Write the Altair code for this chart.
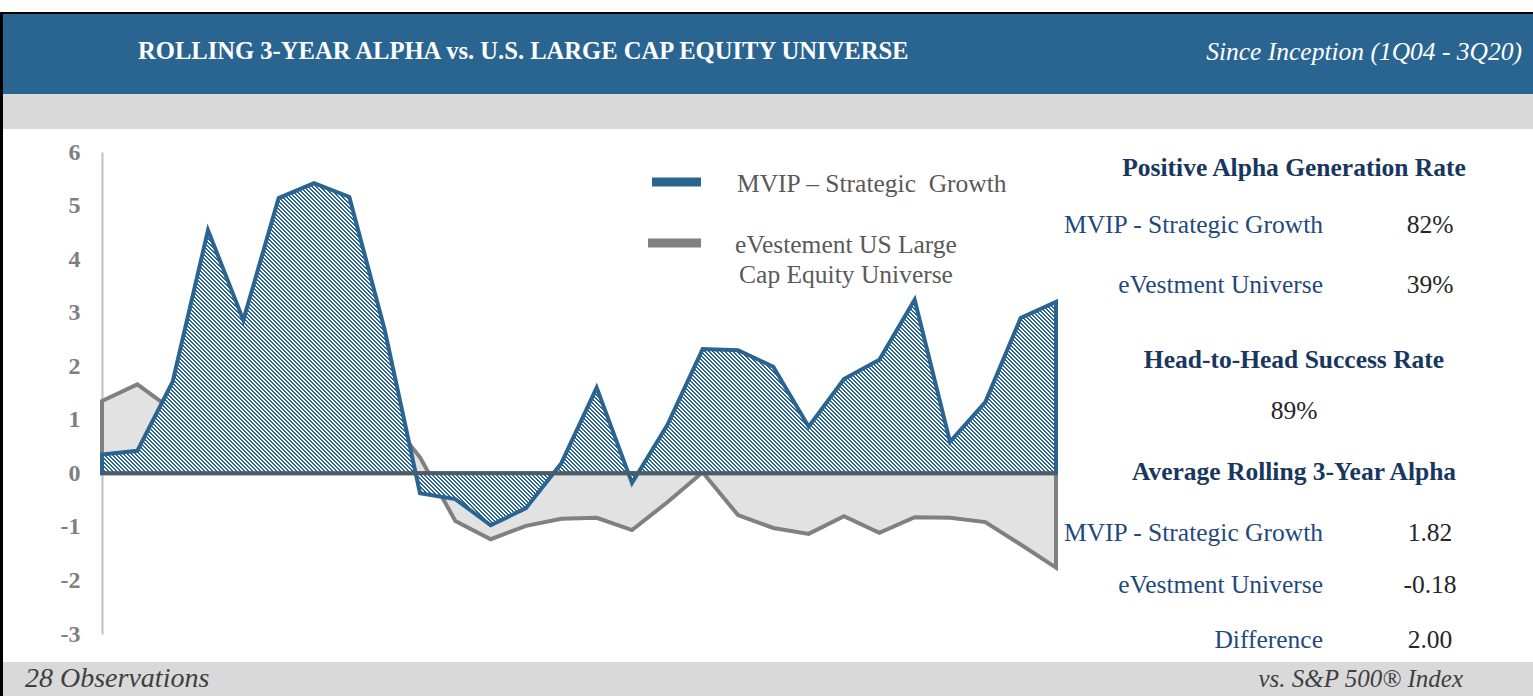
import altair as alt
import pandas as pd

# ---------------- data ----------------
obs = list(range(28))
mvip = [0.35, 0.42, 1.71, 4.54, 2.86, 5.14, 5.42, 5.16, 2.68, -0.37,
        -0.48, -0.97, -0.65, 0.19, 1.60, -0.18, 0.90, 2.32, 2.30, 1.99,
        0.87, 1.76, 2.12, 3.24, 0.59, 1.33, 2.90, 3.20]
evest = [1.35, 1.66, 1.18, 1.05, 1.15, 1.35, 1.40, 1.25, 1.12, 0.30,
         -0.89, -1.23, -0.98, -0.85, -0.83, -1.06, -0.54, 0.02, -0.78, -1.02,
         -1.13, -0.80, -1.11, -0.82, -0.83, -0.91, -1.33, -1.76]
y_ticks = [-3, -2, -1, 0, 1, 2, 3, 4, 5, 6]

title_text = "ROLLING 3-YEAR ALPHA vs. U.S. LARGE CAP EQUITY UNIVERSE"
subtitle_text = "Since Inception (1Q04 - 3Q20)"
footer_left = "28 Observations"
footer_right = "vs. S&P 500\u00ae Index"
legend_1 = "MVIP \u2013 Strategic \u00a0Growth"
legend_2 = ["eVestement US Large", "Cap Equity Universe"]

panel_head = ["Positive Alpha Generation Rate", "Head-to-Head Success Rate",
              "Average Rolling 3-Year Alpha"]
pos_labels = ["MVIP - Strategic Growth", "eVestment Universe"]
pos_values = ["82%", "39%"]
h2h_value = "89%"
avg_labels = ["MVIP - Strategic Growth", "eVestment Universe", "Difference"]
avg_values = ["1.82", "-0.18", "2.00"]

df = pd.DataFrame({"obs": obs, "mvip": mvip, "evest": evest})

# ---------------- style ----------------
FONT = "Liberation Serif"
BLUE = "#2a6592"
GREY_LINE = "#808080"
GREY_FILL = "#e2e2e2"
NAVY_H = "#17375e"
NAVY = "#1f497d"
VAL = "#262626"

W, H = 954, 482
Y0, Y1 = -3, 6

xs = alt.Scale(domain=[0, 27], nice=False, zero=False)
ys = alt.Scale(domain=[Y0, Y1], nice=False, zero=False)

yaxis = alt.Axis(values=y_ticks, labelExpr="'' + datum.value", labelFont=FONT,
                 labelFontSize=24, labelFontWeight="bold", labelColor="#7f7f7f",
                 labelPadding=22, ticks=False, grid=False, domainColor="#bfbfbf",
                 domainWidth=2, title=None)

# stripe gradient for blue area ("\" diagonal stripes)
k = H / (Y1 - Y0)
bw = W
bh = (max(max(mvip), 0) - min(min(mvip), 0)) * k
den = bw ** 2 + bh ** 2
gx2 = bw * (bw + bh) / den
gy2 = 1 - bh * (bw + bh) / den
N = int(round((bw + bh) / 4.0))
stops = []
for j in range(N):
    a = j / N
    b = (j + 0.47) / N
    c = (j + 1) / N
    stops += [alt.GradientStop(offset=round(a, 6), color=BLUE),
              alt.GradientStop(offset=round(b, 6), color=BLUE),
              alt.GradientStop(offset=round(b, 6), color="#ffffff"),
              alt.GradientStop(offset=round(c, 6), color="#ffffff")]
stripes = alt.LinearGradient(gradient="linear", stops=stops, x1=0, y1=1,
                             x2=gx2, y2=gy2)

base = alt.Chart(df)
grey_area = base.mark_area(fill=GREY_FILL, stroke=GREY_LINE, strokeWidth=4).encode(
    x=alt.X("obs:Q", scale=xs, axis=None),
    y=alt.Y("evest:Q", scale=ys, axis=yaxis))
blue_area = base.mark_area(fill=stripes, stroke=BLUE, strokeWidth=4).encode(
    x=alt.X("obs:Q", scale=xs, axis=None),
    y=alt.Y("mvip:Q", scale=ys, axis=yaxis))
zero_rule = alt.Chart(alt.Data(values=[{"v": 0}])).mark_rule(
    color="#595959", strokeWidth=3).encode(
    y=alt.Y("v:Q", scale=ys, axis=yaxis), x=alt.value(0), x2=alt.value(W))

one = alt.Data(values=[{"a": 1}])


def rect(x, x2, y, y2, color):
    return alt.Chart(one).mark_rect(color=color, strokeWidth=0).encode(
        x=alt.value(x), x2=alt.value(x2), y=alt.value(y), y2=alt.value(y2))


def hbar(x, x2, y, color, w):
    return alt.Chart(one).mark_rule(color=color, strokeWidth=w).encode(
        x=alt.value(x), x2=alt.value(x2), y=alt.value(y))


def txt(s, x, y, size=25.5, color=NAVY, weight="normal", style="normal", align="left"):
    return alt.Chart(one).mark_text(text=s, font=FONT, fontSize=size, color=color,
                                    fontWeight=weight, fontStyle=style, align=align,
                                    baseline="middle").encode(
        x=alt.value(x), y=alt.value(y))


L, T = 102, 152  # plot origin in page pixels
decor = [
    rect(-L, 1533 - L, 12 - T, 14 - T, "#000000"),
    rect(-L, 1533 - L, 14 - T, 94 - T, BLUE),
    rect(-L, 1533 - L, 94 - T, 129 - T, "#d9d9d9"),
    rect(3 - L, 1533 - L, 662 - T, 696 - T, "#d9d9d9"),
    rect(-L, 3 - L, 12 - T, 696 - T, "#000000"),
    txt(title_text, 138 - L, 52 - T, size=24.6, color="#ffffff", weight="bold"),
    txt(subtitle_text, 1522 - L, 52 - T, color="#ffffff", style="italic", align="right"),
    txt(footer_left, 25 - L, 679 - T, size=28, color="#3f3f3f", style="italic"),
    txt(footer_right, 1463 - L, 679 - T, size=25, color="#3f3f3f", style="italic", align="right"),
    # legend
    hbar(652 - L, 701 - L, 182 - T, BLUE, 9),
    hbar(648 - L, 701 - L, 243 - T, GREY_LINE, 9),
    txt(legend_1, 737 - L, 184 - T, color="#595959"),
    txt(legend_2[0], 846 - L, 245 - T, color="#595959", align="center"),
    txt(legend_2[1], 846 - L, 275 - T, color="#595959", align="center"),
    # right panel
    txt(panel_head[0], 1294 - L, 168 - T, color=NAVY_H, weight="bold", align="center"),
    txt(pos_labels[0], 1323 - L, 225 - T, align="right"),
    txt(pos_values[0], 1430 - L, 225 - T, color=VAL, align="center"),
    txt(pos_labels[1], 1323 - L, 285 - T, align="right"),
    txt(pos_values[1], 1430 - L, 285 - T, color=VAL, align="center"),
    txt(panel_head[1], 1294 - L, 360 - T, color=NAVY_H, weight="bold", align="center"),
    txt(h2h_value, 1294 - L, 411 - T, color=VAL, align="center"),
    txt(panel_head[2], 1294 - L, 472 - T, color=NAVY_H, weight="bold", align="center"),
    txt(avg_labels[0], 1323 - L, 533 - T, align="right"),
    txt(avg_values[0], 1430 - L, 533 - T, color=VAL, align="center"),
    txt(avg_labels[1], 1323 - L, 585 - T, align="right"),
    txt(avg_values[1], 1430 - L, 585 - T, color=VAL, align="center"),
    txt(avg_labels[2], 1323 - L, 640 - T, align="right"),
    txt(avg_values[2], 1430 - L, 640 - T, color=VAL, align="center"),
]

chart = alt.layer(grey_area, blue_area, zero_rule, *decor).properties(
    width=W, height=H,
    autosize=alt.AutoSizeParams(type="none"),
    padding={"left": L, "top": T, "right": 1533 - L - W, "bottom": 696 - T - H},
    background="#ffffff",
).configure_view(stroke=None)

chart.save("out.html", embed_options={"renderer": "svg", "actions": False})
